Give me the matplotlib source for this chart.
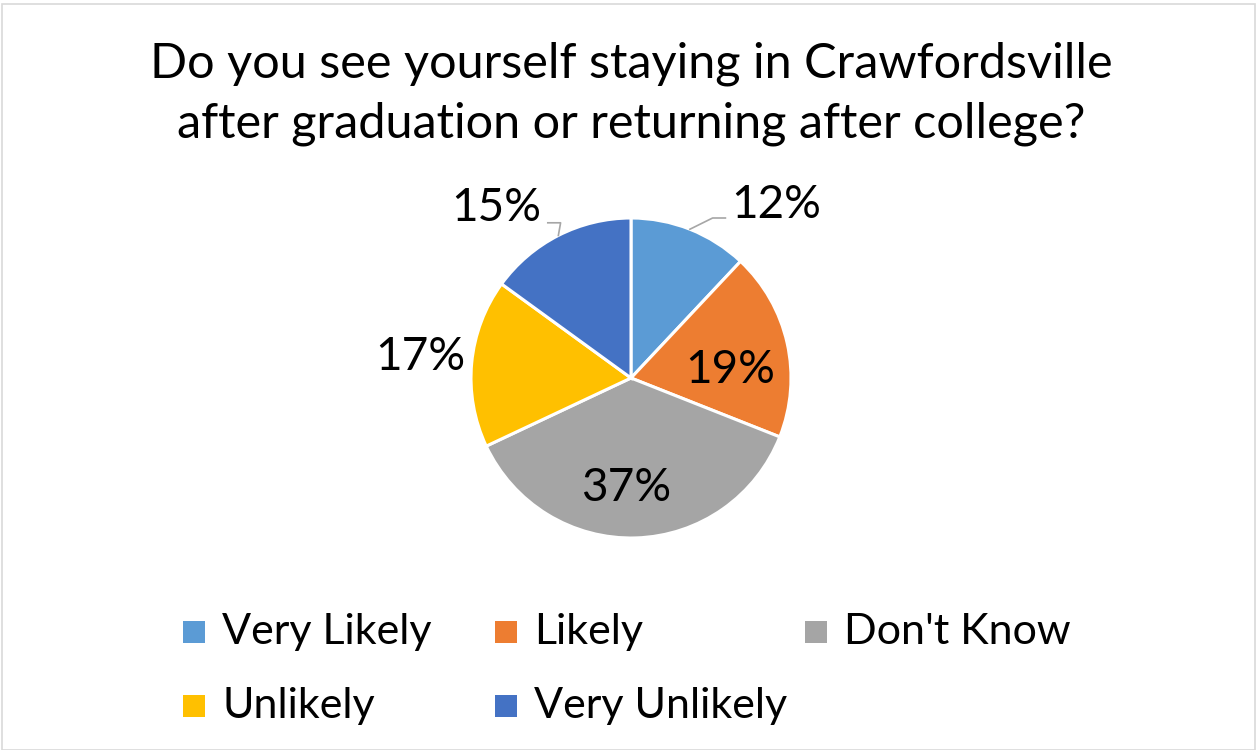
import matplotlib
matplotlib.use("Agg")
import matplotlib.pyplot as plt
from matplotlib.patches import Rectangle
import numpy as np

plt.rcParams["font.family"] = ["Lato", "DejaVu Sans"]

TITLE = "Do you see yourself staying in Crawfordsville\nafter graduation or returning after college?"
categories = ["Very Likely", "Likely", "Don't Know", "Unlikely", "Very Unlikely"]
shares = [12, 19, 37, 17, 15]
colors = ["#5B9BD5", "#ED7D31", "#A5A5A5", "#FFC000", "#4472C4"]

# label placement in pie units (radius = 1), tuned to the reference
label_xy = [(0.91, 1.08), (0.62, 0.05), (-0.03, -0.69), (-1.32, 0.13), (-0.84, 1.06)]
# leader line elbows / ends (None = no leader)
leaders = [((0.51, 1.0), (0.59, 1.0)), None, None, None, ((-0.44, 0.97), (-0.52, 0.97))]

W, H = 1258, 750
fig = plt.figure(figsize=(W / 100, H / 100), dpi=100)

# light grey chart border
fig.patches.append(Rectangle((2 / W, 0), 1 - 5 / W, 1 - 4 / H, transform=fig.transFigure,
                             fill=False, edgecolor="#D9D9D9", linewidth=1.2))

fig.text(631 / W, 1 - 94 / H, TITLE, ha="center", va="center", fontsize=35,
         linespacing=1.42)

cx, cy, r = 631, 378, 160
ax = fig.add_axes([(cx - r) / W, (H - cy - r) / H, 2 * r / W, 2 * r / H])
wedges, _ = ax.pie(shares, colors=colors, startangle=90, counterclock=False,
                   radius=1, wedgeprops=dict(edgecolor="white", linewidth=2.2))
ax.set_xlim(-1, 1)
ax.set_ylim(-1, 1)
ax.set_aspect("equal")
ax.axis("off")

for w, val, (lx, ly), ld in zip(wedges, shares, label_xy, leaders):
    ax.text(lx, ly, f"{val}%", ha="center", va="center", fontsize=33,
            color="#000000", clip_on=False)
    if ld is not None:
        mid = np.deg2rad((w.theta1 + w.theta2) / 2)
        xs = [np.cos(mid), ld[0][0], ld[1][0]]
        ys = [np.sin(mid), ld[0][1], ld[1][1]]
        ax.plot(xs, ys, color="#A6A6A6", linewidth=1.2, clip_on=False)

# legend: three fixed-width columns, two rows
col_x = [183, 495, 805]
row_y = [632, 706]
for i, (name, c) in enumerate(zip(categories, colors)):
    x0 = col_x[i % 3]
    y0 = row_y[i // 3]
    fig.patches.append(Rectangle((x0 / W, (H - y0 - 11) / H), 22 / W, 22 / H,
                                 transform=fig.transFigure, facecolor=c, edgecolor="none"))
    fig.text((x0 + 39) / W, 1 - y0 / H, name, ha="left", va="center", fontsize=31)

fig.savefig("out.png", dpi=100)
